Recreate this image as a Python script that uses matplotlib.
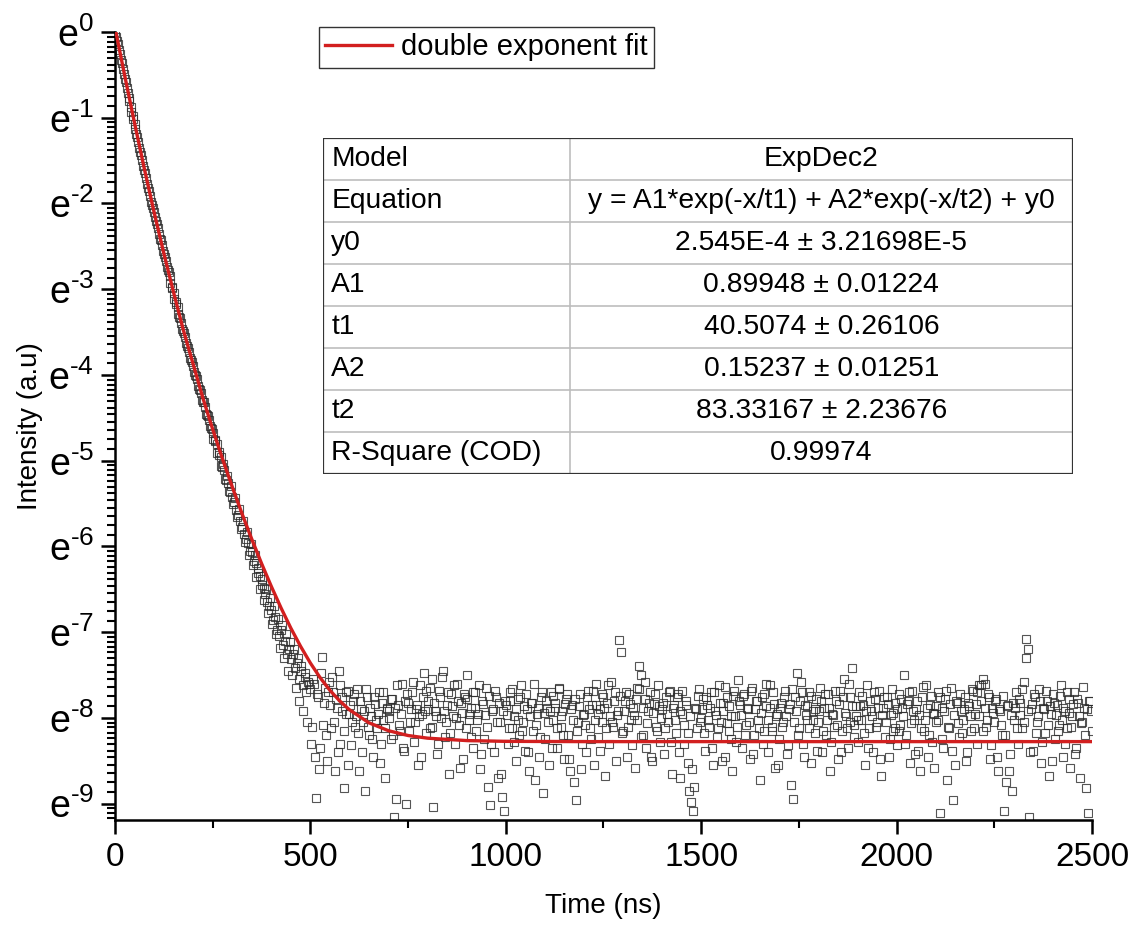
import numpy as np
import matplotlib
matplotlib.use('Agg')
import matplotlib.pyplot as plt
from matplotlib.ticker import FixedLocator, NullFormatter, MultipleLocator
from matplotlib.patches import Rectangle

plt.rcParams['font.family'] = ['Liberation Sans', 'DejaVu Sans']
plt.rcParams['mathtext.fontset'] = 'custom'
plt.rcParams['mathtext.rm'] = 'Liberation Sans'
plt.rcParams['mathtext.it'] = 'Liberation Sans'
plt.rcParams['axes.unicode_minus'] = False

# ---------------- data (ln of intensity) ----------------
time_decay = [0, 5, 10, 15, 20, 25, 30, 35, 40, 45,
              50, 55, 60, 65, 70, 75, 80, 85, 90, 95,
              100, 105, 110, 115, 120, 125, 130, 135, 140, 145,
              150, 155, 160, 165, 170, 175, 180, 185, 190, 195,
              200, 205, 210, 215, 220, 225, 230, 235, 240, 245,
              250, 255, 260, 265, 270, 275, 280, 285, 290, 295,
              300, 305, 310, 315, 320, 325, 330, 335, 340, 345,
              350, 355, 360, 365, 370, 375, 380, 385, 390, 395,
              400, 405, 410, 415, 420, 425, 430, 435, 440, 445,
              450, 455, 460, 465, 470, 475, 480, 485, 490, 495,
              500, 505, 510, 515, 520, 525, 530, 535, 540, 545,
              550, 555, 560, 565, 570, 575, 580, 585, 590, 595]
ln_decay = [0.00, -0.10, -0.21, -0.33, -0.43, -0.55, -0.65, -0.77, -0.87, -0.98,
            -1.07, -1.19, -1.28, -1.40, -1.49, -1.61, -1.70, -1.82, -1.91, -2.02,
            -2.10, -2.21, -2.29, -2.41, -2.49, -2.59, -2.67, -2.78, -2.85, -2.97,
            -3.04, -3.15, -3.21, -3.32, -3.39, -3.49, -3.56, -3.66, -3.73, -3.83,
            -3.90, -4.00, -4.05, -4.16, -4.21, -4.31, -4.37, -4.47, -4.52, -4.62,
            -4.68, -4.77, -4.81, -4.93, -4.96, -5.07, -5.11, -5.22, -5.26, -5.36,
            -5.42, -5.48, -5.57, -5.63, -5.70, -5.77, -5.85, -5.91, -5.96, -6.05,
            -6.06, -6.17, -6.19, -6.31, -6.35, -6.45, -6.49, -6.56, -6.65, -6.69,
            -6.74, -6.86, -6.82, -6.97, -7.05, -6.98, -7.15, -7.10, -7.26, -7.20,
            -7.31, -7.25, -7.42, -7.36, -7.55, -7.40, -7.62, -7.48, -7.70, -7.58,
            -7.66, -8.10, -7.60, -8.93, -7.75, -8.35, -7.29, -7.82, -8.20, -7.70,
            -7.85, -7.52, -8.05, -7.78, -8.40, -7.62, -7.92, -8.15, -7.70, -8.55]

time_decay_b = [2, 7, 12, 17, 22, 27, 32, 37, 42, 47,
                52, 57, 62, 67, 72, 77, 82, 87, 92, 97,
                102, 107, 112, 117, 122, 127, 132, 137, 142, 147,
                152, 157, 162, 167, 172, 177, 182, 187, 192, 197,
                202, 207, 212, 217, 222, 227, 232, 237, 242, 247,
                252, 257, 262, 267, 272, 277, 282, 287, 292, 297,
                302, 307, 312, 317, 322, 327, 332, 337, 342, 347,
                352, 357, 362, 367, 372, 377, 382, 387, 392, 397,
                402, 407, 412, 417, 422, 427, 432, 437, 442, 447,
                452, 457, 462, 467, 472, 477, 482, 487, 492, 497,
                502, 507, 512, 517, 522, 527, 532, 537, 542, 547,
                552, 557, 562, 567, 572, 577, 582, 587, 592, 597]
ln_decay_b = [-0.06, -0.14, -0.26, -0.36, -0.49, -0.58, -0.71, -0.80, -0.93, -1.02,
              -1.13, -1.22, -1.35, -1.43, -1.56, -1.64, -1.77, -1.85, -1.98, -2.05,
              -2.16, -2.24, -2.36, -2.43, -2.55, -2.62, -2.74, -2.80, -2.93, -2.99,
              -3.11, -3.17, -3.29, -3.34, -3.46, -3.51, -3.63, -3.68, -3.80, -3.85,
              -3.97, -4.01, -4.13, -4.17, -4.29, -4.32, -4.45, -4.48, -4.60, -4.63,
              -4.75, -4.76, -4.91, -4.90, -5.06, -5.04, -5.21, -5.18, -5.35, -5.30,
              -5.50, -5.43, -5.66, -5.56, -5.80, -5.70, -5.95, -5.83, -6.10, -5.97,
              -6.22, -6.10, -6.36, -6.25, -6.50, -6.38, -6.62, -6.50, -6.78, -6.60,
              -6.90, -6.70, -7.02, -6.85, -7.18, -6.92, -7.30, -7.02, -7.45, -7.12,
              -7.50, -7.20, -7.65, -7.30, -7.80, -7.45, -7.92, -7.52, -8.05, -7.60,
              -8.30, -7.55, -8.45, -7.72, -8.60, -7.48, -8.08, -7.65, -8.50, -7.58,
              -8.12, -7.70, -8.62, -7.88, -7.45, -8.30, -7.75, -8.82, -7.95, -7.68]

time_tail = [600, 605, 610, 615, 620, 625, 630, 635, 640, 645, 650, 655, 660, 665, 670, 675, 680, 685, 690, 695,
             700, 705, 710, 715, 720, 725, 730, 735, 740, 745, 750, 755, 760, 765, 770, 775, 780, 785, 790, 795,
             800, 805, 810, 815, 820, 825, 830, 835, 840, 845, 850, 855, 860, 865, 870, 875, 880, 885, 890, 895,
             900, 905, 910, 915, 920, 925, 930, 935, 940, 945, 950, 955, 960, 965, 970, 975, 980, 985, 990, 995,
             1000, 1005, 1010, 1015, 1020, 1025, 1030, 1035, 1040, 1045, 1050, 1055, 1060, 1065, 1070, 1075, 1080, 1085, 1090, 1095,
             1100, 1105, 1110, 1115, 1120, 1125, 1130, 1135, 1140, 1145, 1150, 1155, 1160, 1165, 1170, 1175, 1180, 1185, 1190, 1195,
             1200, 1205, 1210, 1215, 1220, 1225, 1230, 1235, 1240, 1245, 1250, 1255, 1260, 1265, 1270, 1275, 1280, 1285, 1290, 1295,
             1300, 1305, 1310, 1315, 1320, 1325, 1330, 1335, 1340, 1345, 1350, 1355, 1360, 1365, 1370, 1375, 1380, 1385, 1390, 1395,
             1400, 1405, 1410, 1415, 1420, 1425, 1430, 1435, 1440, 1445, 1450, 1455, 1460, 1465, 1470, 1475, 1480, 1485, 1490, 1495,
             1500, 1505, 1510, 1515, 1520, 1525, 1530, 1535, 1540, 1545, 1550, 1555, 1560, 1565, 1570, 1575, 1580, 1585, 1590, 1595,
             1600, 1605, 1610, 1615, 1620, 1625, 1630, 1635, 1640, 1645, 1650, 1655, 1660, 1665, 1670, 1675, 1680, 1685, 1690, 1695,
             1700, 1705, 1710, 1715, 1720, 1725, 1730, 1735, 1740, 1745, 1750, 1755, 1760, 1765, 1770, 1775, 1780, 1785, 1790, 1795,
             1800, 1805, 1810, 1815, 1820, 1825, 1830, 1835, 1840, 1845, 1850, 1855, 1860, 1865, 1870, 1875, 1880, 1885, 1890, 1895,
             1900, 1905, 1910, 1915, 1920, 1925, 1930, 1935, 1940, 1945, 1950, 1955, 1960, 1965, 1970, 1975, 1980, 1985, 1990, 1995,
             2000, 2005, 2010, 2015, 2020, 2025, 2030, 2035, 2040, 2045, 2050, 2055, 2060, 2065, 2070, 2075, 2080, 2085, 2090, 2095,
             2100, 2105, 2110, 2115, 2120, 2125, 2130, 2135, 2140, 2145, 2150, 2155, 2160, 2165, 2170, 2175, 2180, 2185, 2190, 2195,
             2200, 2205, 2210, 2215, 2220, 2225, 2230, 2235, 2240, 2245, 2250, 2255, 2260, 2265, 2270, 2275, 2280, 2285, 2290, 2295,
             2300, 2305, 2310, 2315, 2320, 2325, 2330, 2335, 2340, 2345, 2350, 2355, 2360, 2365, 2370, 2375, 2380, 2385, 2390, 2395,
             2400, 2405, 2410, 2415, 2420, 2425, 2430, 2435, 2440, 2445, 2450, 2455, 2460, 2465, 2470, 2475, 2480, 2485, 2490, 2495,
             2500]
ln_tail = [-7.95, -8.32, -7.80, -8.10, -7.66, -8.62, -7.90, -8.05, -8.85, -7.75, -8.20, -7.98, -8.45, -7.84, -8.12, -7.70, -8.30, -8.02, -8.70, -7.88,
           -7.92, -8.25, -7.78, -9.15, -8.95, -7.85, -8.15, -7.60, -8.38, -9.00, -7.82, -8.05, -7.70, -8.28, -7.90, -8.55, -7.62, -7.95, -7.48, -8.18,
           -7.80, -8.12, -7.55, -9.04, -7.92, -8.42, -7.68, -8.00, -7.45, -8.22, -7.85, -8.65, -7.72, -7.98, -8.30, -7.60, -8.08, -7.82, -8.48, -7.75,
           -7.50, -8.02, -7.88, -8.35, -7.70, -8.15, -7.95, -8.60, -7.80, -8.25, -7.65, -8.80, -9.02, -7.92, -8.40, -7.75, -8.70, -8.05, -8.92, -9.08,
           -7.85, -8.30, -7.70, -8.12, -7.98, -8.50, -7.78, -8.20, -7.62, -8.05, -8.38, -7.90, -8.62, -7.82, -8.15, -8.72, -7.95, -8.45, -7.75, -8.88,
           -8.25, -7.88, -8.55, -7.70, -8.02, -7.82, -8.35, -7.65, -8.10, -7.92, -8.48, -7.78, -8.20, -8.62, -7.85, -8.75, -8.96, -8.05, -7.72, -8.30,
           -7.95, -8.40, -7.68, -8.12, -7.85, -8.55, -7.60, -8.22, -7.90, -8.05, -7.75, -8.68, -7.82, -8.30, -7.58, -8.10, -7.70, -7.96, -7.09, -7.23,
           -8.15, -7.80, -8.45, -7.72, -8.02, -7.88, -8.58, -7.65, -7.39, -7.50, -8.20, -7.78, -8.35, -7.92, -7.70, -8.50, -7.84, -8.10, -7.62, -8.28,
           -7.90, -8.42, -7.75, -8.05, -7.68, -8.65, -7.85, -8.18, -7.72, -8.70, -7.95, -8.30, -7.80, -8.52, -8.85, -8.98, -9.08, -7.88, -8.12, -7.66,
           -8.00, -7.78, -8.38, -7.85, -8.10, -7.70, -8.55, -7.92, -8.22, -7.62, -8.05, -7.82, -8.45, -7.75, -8.15, -7.98, -8.62, -7.68, -8.28, -7.56,
           -7.85, -8.35, -7.72, -8.08, -7.90, -8.48, -7.65, -8.20, -7.80, -8.02, -8.72, -7.76, -8.15, -7.60, -8.40, -7.88, -8.10, -7.70, -8.58, -7.95,
           -8.25, -7.82, -8.05, -7.68, -8.42, -7.90, -8.78, -8.94, -7.75, -7.47, -8.12, -7.58, -8.30, -7.85, -8.02, -7.70, -8.52, -7.92, -8.18, -7.78,
           -8.05, -7.65, -8.40, -7.88, -8.20, -7.72, -8.62, -7.95, -8.10, -7.80, -8.48, -7.68, -8.15, -7.55, -7.98, -8.35, -7.75, -7.42, -8.08, -7.86,
           -8.28, -7.70, -8.02, -7.85, -8.55, -7.62, -8.12, -7.92, -8.40, -7.78, -8.05, -7.68, -8.68, -7.88, -8.22, -7.75, -8.45, -7.96, -8.15, -7.82,
           -8.32, -7.72, -8.08, -7.88, -7.50, -8.20, -7.80, -8.52, -7.68, -8.02, -7.90, -8.38, -8.62, -7.76, -8.15, -7.62, -8.45, -7.85, -8.28, -7.95,
           -8.05, -7.70, -9.11, -7.88, -8.35, -7.78, -8.72, -8.12, -7.65, -8.96, -8.55, -7.82, -8.22, -7.92, -8.02, -7.75, -8.40, -7.86, -8.15, -7.68,
           -7.95, -8.30, -7.62, -7.80, -7.54, -7.60, -8.10, -7.72, -8.48, -7.88, -8.05, -7.78, -8.62, -7.92, -8.20, -9.08, -8.75, -7.85, -8.42, -8.85,
           -8.02, -7.70, -8.30, -7.82, -8.12, -7.58, -7.08, -7.20, -9.16, -7.90, -8.38, -7.75, -8.05, -7.66, -8.52, -7.88, -8.18, -7.80, -8.68, -7.95,
           -7.72, -8.25, -7.85, -8.08, -7.62, -8.45, -7.92, -8.12, -7.78, -8.58, -7.98, -7.70, -8.35, -7.82, -8.70, -8.05, -7.88, -8.82, -9.11, -7.80,
           -8.15]

time_tail_b = [602, 607, 612, 617, 622, 627, 632, 637, 642, 647, 652, 657, 662, 667, 672, 677, 682, 687, 692, 697,
               702, 707, 712, 717, 722, 727, 732, 737, 742, 747, 752, 757, 762, 767, 772, 777, 782, 787, 792, 797,
               802, 807, 812, 817, 822, 827, 832, 837, 842, 847, 852, 857, 862, 867, 872, 877, 882, 887, 892, 897,
               902, 907, 912, 917, 922, 927, 932, 937, 942, 947, 952, 957, 962, 967, 972, 977, 982, 987, 992, 997,
               1002, 1007, 1012, 1017, 1022, 1027, 1032, 1037, 1042, 1047, 1052, 1057, 1062, 1067, 1072, 1077, 1082, 1087, 1092, 1097,
               1102, 1107, 1112, 1117, 1122, 1127, 1132, 1137, 1142, 1147, 1152, 1157, 1162, 1167, 1172, 1177, 1182, 1187, 1192, 1197,
               1202, 1207, 1212, 1217, 1222, 1227, 1232, 1237, 1242, 1247, 1252, 1257, 1262, 1267, 1272, 1277, 1282, 1287, 1292, 1297,
               1302, 1307, 1312, 1317, 1322, 1327, 1332, 1337, 1342, 1347, 1352, 1357, 1362, 1367, 1372, 1377, 1382, 1387, 1392, 1397,
               1402, 1407, 1412, 1417, 1422, 1427, 1432, 1437, 1442, 1447, 1452, 1457, 1462, 1467, 1472, 1477, 1482, 1487, 1492, 1497,
               1502, 1507, 1512, 1517, 1522, 1527, 1532, 1537, 1542, 1547, 1552, 1557, 1562, 1567, 1572, 1577, 1582, 1587, 1592, 1597,
               1602, 1607, 1612, 1617, 1622, 1627, 1632, 1637, 1642, 1647, 1652, 1657, 1662, 1667, 1672, 1677, 1682, 1687, 1692, 1697,
               1702, 1707, 1712, 1717, 1722, 1727, 1732, 1737, 1742, 1747, 1752, 1757, 1762, 1767, 1772, 1777, 1782, 1787, 1792, 1797,
               1802, 1807, 1812, 1817, 1822, 1827, 1832, 1837, 1842, 1847, 1852, 1857, 1862, 1867, 1872, 1877, 1882, 1887, 1892, 1897,
               1902, 1907, 1912, 1917, 1922, 1927, 1932, 1937, 1942, 1947, 1952, 1957, 1962, 1967, 1972, 1977, 1982, 1987, 1992, 1997,
               2002, 2007, 2012, 2017, 2022, 2027, 2032, 2037, 2042, 2047, 2052, 2057, 2062, 2067, 2072, 2077, 2082, 2087, 2092, 2097,
               2102, 2107, 2112, 2117, 2122, 2127, 2132, 2137, 2142, 2147, 2152, 2157, 2162, 2167, 2172, 2177, 2182, 2187, 2192, 2197,
               2202, 2207, 2212, 2217, 2222, 2227, 2232, 2237, 2242, 2247, 2252, 2257, 2262, 2267, 2272, 2277, 2282, 2287, 2292, 2297,
               2302, 2307, 2312, 2317, 2322, 2327, 2332, 2337, 2342, 2347, 2352, 2357, 2362, 2367, 2372, 2377, 2382, 2387, 2392, 2397,
               2402, 2407, 2412, 2417, 2422, 2427, 2432, 2437, 2442, 2447, 2452, 2457, 2462, 2467, 2472, 2477, 2482, 2487, 2492, 2497]
ln_tail_b = [-7.85, -8.05, -7.72, -7.98, -8.18, -7.80, -8.40, -7.92, -7.66, -8.10, -7.88, -8.25, -7.75, -8.02, -7.95, -8.52, -7.82, -7.70, -8.12, -7.90,
             -8.00, -7.78, -8.20, -7.88, -7.62, -8.08, -7.95, -8.35, -7.80, -7.72, -8.15, -7.90, -7.58, -8.05, -7.85, -7.98, -8.45, -7.76, -7.92, -7.68,
             -7.90, -7.65, -8.10, -7.82, -7.98, -8.30, -7.75, -7.52, -7.92, -8.05, -7.70, -8.18, -7.86, -7.62, -8.00, -7.80, -8.58, -7.94, -7.72, -8.12,
             -7.78, -7.95, -8.22, -7.70, -7.88, -8.02, -7.62, -8.42, -7.84, -7.96, -8.10, -7.74, -8.30, -7.90, -7.68, -8.05, -7.82, -8.65, -7.92, -7.80,
             -7.96, -8.12, -7.80, -7.66, -8.28, -7.90, -8.02, -7.76, -8.15, -7.86, -7.72, -8.40, -7.98, -7.82, -7.60, -8.08, -7.88, -8.22, -7.70, -7.94,
             -7.80, -8.05, -7.92, -8.35, -7.74, -7.88, -8.12, -7.66, -7.98, -8.20, -7.84, -7.72, -8.48, -7.90, -8.02, -7.78, -8.15, -7.86, -8.60, -7.96,
             -8.08, -7.76, -7.90, -8.25, -7.68, -8.02, -7.85, -7.95, -8.38, -7.72, -7.88, -8.12, -7.62, -7.98, -8.05, -7.80, -8.50, -7.92, -7.74, -8.18,
             -7.92, -7.70, -8.10, -7.84, -8.32, -7.96, -7.78, -8.02, -7.66, -8.22, -7.88, -7.58, -8.06, -7.82, -8.45, -7.94, -7.72, -8.15, -7.86, -8.00,
             -7.82, -8.12, -7.95, -7.70, -8.28, -7.88, -8.02, -7.76, -8.40, -7.92, -7.68, -8.08, -7.85, -8.18, -7.98, -8.60, -8.80, -7.90, -7.74, -8.05,
             -7.90, -8.18, -7.76, -8.02, -7.88, -8.35, -7.70, -7.96, -8.12, -7.82, -8.50, -7.92, -7.64, -8.06, -7.86, -8.25, -7.74, -7.98, -8.10, -7.80,
             -7.96, -7.74, -8.20, -7.88, -8.05, -7.68, -8.42, -7.90, -7.80, -8.12, -7.94, -8.30, -7.72, -7.86, -8.02, -7.62, -8.15, -7.84, -7.98, -8.55,
             -7.88, -8.10, -7.76, -7.98, -8.32, -7.84, -7.66, -8.05, -7.92, -8.20, -7.80, -7.70, -8.45, -7.96, -7.86, -8.12, -7.74, -8.02, -7.90, -8.38,
             -7.92, -7.80, -8.15, -7.72, -8.02, -7.88, -8.28, -7.96, -7.68, -8.08, -7.84, -8.40, -7.76, -7.94, -8.12, -7.60, -8.05, -7.86, -8.22, -7.98,
             -8.02, -7.86, -7.74, -8.18, -7.92, -8.35, -7.80, -7.98, -7.70, -8.10, -7.88, -8.48, -7.96, -7.76, -8.05, -7.84, -8.25, -7.66, -7.94, -8.12,
             -7.90, -8.15, -7.78, -7.98, -8.30, -7.84, -7.70, -8.06, -7.92, -8.42, -7.80, -7.96, -8.12, -7.64, -8.02, -7.88, -8.20, -7.74, -7.94, -8.58,
             -7.86, -8.02, -7.76, -8.25, -7.92, -7.68, -8.10, -7.84, -8.38, -7.96, -7.80, -8.06, -7.72, -8.18, -7.90, -8.50, -7.82, -7.98, -7.66, -8.12,
             -7.84, -7.70, -7.98, -7.62, -8.15, -7.88, -8.02, -7.76, -8.32, -7.94, -7.80, -8.45, -7.90, -8.08, -7.74, -8.20, -7.86, -8.62, -7.96, -7.82,
             -7.88, -8.12, -7.78, -7.96, -7.66, -8.05, -7.30, -7.92, -8.40, -7.84, -7.72, -8.18, -7.98, -7.80, -8.28, -7.90, -7.68, -8.08, -7.86, -8.50,
             -7.82, -7.96, -8.15, -7.74, -8.02, -7.88, -8.30, -7.70, -7.94, -8.10, -7.84, -8.42, -7.78, -7.98, -8.06, -7.64, -8.20, -7.90, -7.80, -7.92]

fit_time = [0, 25, 50, 75, 100, 125, 150, 175, 200, 225, 250, 275, 300, 325, 350, 375,
            400, 425, 450, 475, 500, 525, 550, 575, 600, 650, 700, 750, 800, 900,
            1000, 1200, 1600, 2000, 2500]
fit_ln = [0.051, -0.513, -1.062, -1.593, -2.101, -2.582, -3.039, -3.478, -3.874, -4.270,
          -4.634, -4.978, -5.305, -5.617, -5.915, -6.198, -6.466, -6.718, -6.953, -7.166,
          -7.360, -7.531, -7.678, -7.802, -7.905, -8.057, -8.149, -8.205, -8.236, -8.264,
          -8.273, -8.276, -8.276, -8.276, -8.276]

ytick_exponents = [0, -1, -2, -3, -4, -5, -6, -7, -8, -9]
xticks = [0, 500, 1000, 1500, 2000, 2500]
legend_label = 'double exponent fit'
table_names = ['Model', 'Equation', 'y0', 'A1', 't1', 'A2', 't2', 'R-Square (COD)']
table_values = ['ExpDec2', 'y = A1*exp(-x/t1) + A2*exp(-x/t2) + y0',
                '2.545E-4 \u00b1 3.21698E-5', '0.89948 \u00b1 0.01224',
                '40.5074 \u00b1 0.26106', '0.15237 \u00b1 0.01251',
                '83.33167 \u00b1 2.23676', '0.99974']

# ---------------- figure ----------------
fig = plt.figure(figsize=(11.33, 9.30), dpi=100)
ax = fig.add_axes([0.1015, 0.1183, 0.8623, 0.8473])

time_all = np.array(time_decay + time_decay_b + time_tail + time_tail_b, dtype=float)
ln_all = np.array(ln_decay + ln_decay_b + ln_tail + ln_tail_b, dtype=float)
ax.plot(time_all, np.exp(ln_all), linestyle='none', marker='s', markersize=5.4,
        markerfacecolor='none', markeredgecolor='#2a2a2a', markeredgewidth=0.8,
        alpha=0.8, zorder=2)
fit_line, = ax.plot(fit_time, np.exp(np.array(fit_ln)), color='#d21f1f', lw=2.4,
                    label=legend_label, zorder=3)

ax.set_yscale('log', base=np.e)
ax.set_xlim(0, 2500)
ax.set_ylim(np.exp(-9.19), np.exp(0.0))


def exp_label(k):
    if k < 0:
        return r'$\mathregular{e^{' + '\u2010' + str(-k) + '}}$'
    return r'$\mathregular{e^{%d}}$' % k


ax.yaxis.set_major_locator(FixedLocator([np.exp(k) for k in ytick_exponents]))
ax.set_yticklabels([exp_label(k) for k in ytick_exponents])
minor = []
for n in range(-10, 0):
    for k in range(1, 12):
        minor.append(np.exp(n) * (1 + k * (np.e - 1) / 12))
ax.yaxis.set_minor_locator(FixedLocator(minor))
ax.yaxis.set_minor_formatter(NullFormatter())

ax.set_xticks(xticks)
ax.set_xticklabels([str(v) for v in xticks])
ax.xaxis.set_minor_locator(MultipleLocator(250))

for s in ['top', 'right']:
    ax.spines[s].set_visible(False)
for s in ['left', 'bottom']:
    ax.spines[s].set_linewidth(1.8)

ax.tick_params(axis='both', which='major', direction='out', length=10, width=1.8,
               labelsize=24, pad=6)
ax.tick_params(axis='y', which='major', labelsize=27, pad=5)
ax.tick_params(axis='both', which='minor', direction='out', length=6, width=1.5)

ax.set_xlabel('Time (ns)', fontsize=20, labelpad=14)
ax.set_ylabel('Intensity (a.u)', fontsize=20, labelpad=4)

leg = ax.legend(handles=[fit_line], loc='upper left',
                bbox_to_anchor=(0.2815, 0.971), bbox_transform=fig.transFigure,
                fontsize=21, frameon=True, fancybox=False, borderpad=0.22,
                handlelength=2.3, handletextpad=0.3, borderaxespad=0)
leg.get_frame().set_edgecolor('black')
leg.get_frame().set_linewidth(1.0)

# ---------------- fit-result table ----------------
tab = fig.add_axes([0.2851, 0.4903, 0.6620, 0.3613])
tab.set_xlim(0, 1)
tab.set_ylim(0, 1)
tab.axis('off')
tab.add_patch(Rectangle((0, 0), 1, 1, facecolor='white', edgecolor='none', zorder=0))
nrows = len(table_names)
split = 0.329
for i in range(1, nrows):
    tab.plot([0, 1], [i / nrows, i / nrows], color='#bdbdbd', lw=1.2, zorder=1)
tab.plot([split, split], [0, 1], color='#bdbdbd', lw=1.2, zorder=1)
tab.add_patch(Rectangle((0, 0), 1, 1, facecolor='none', edgecolor='#333333',
                        lw=1.6, zorder=2))
for i, (name, val) in enumerate(zip(table_names, table_values)):
    yc = 1 - (i + 0.5) / nrows
    tab.text(0.011, yc, name, ha='left', va='center', fontsize=20.3)
    tab.text((split + 1) / 2, yc, val, ha='center', va='center', fontsize=20.3)

fig.savefig('out.png', dpi=100)
